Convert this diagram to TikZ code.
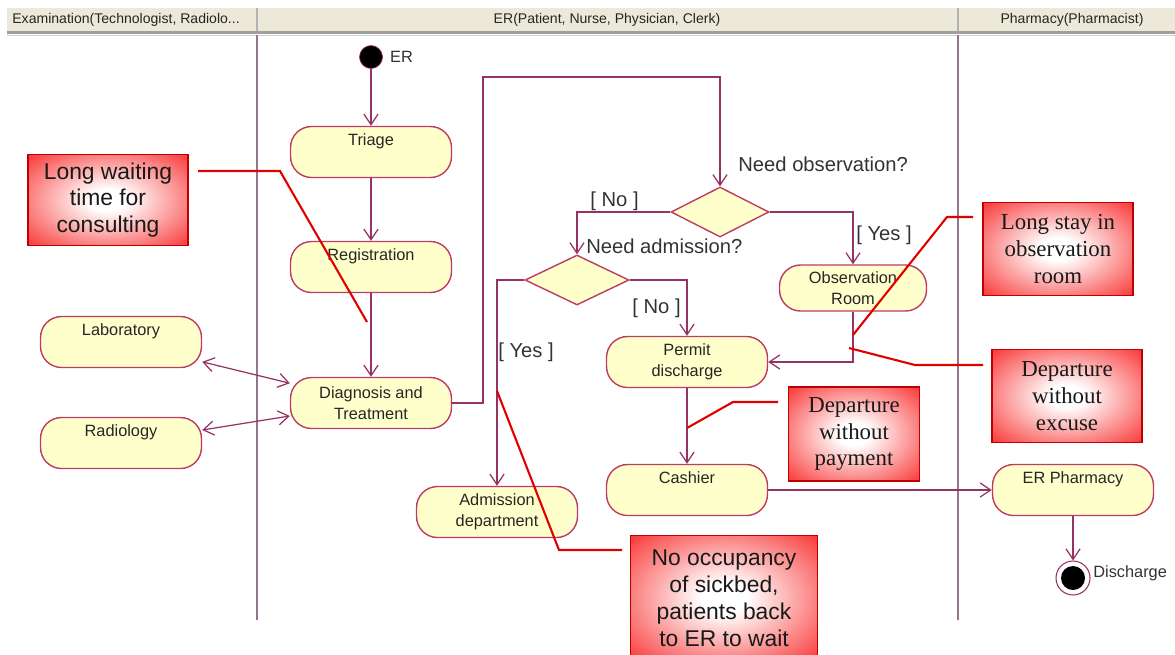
\documentclass[tikz,border=0pt]{standalone}
\usepackage{fontspec}
\setmainfont{Liberation Sans}
\newfontfamily\notefont{Liberation Serif}
\usepackage{xcolor}
\usetikzlibrary{arrows.meta, positioning, shapes.geometric}

\definecolor{actfill}{RGB}{255,255,204}
\definecolor{actline}{RGB}{190,60,100}
\definecolor{flowline}{RGB}{150,50,100}
\definecolor{laneline}{RGB}{150,115,140}
\definecolor{headfill}{RGB}{236,233,216}
\definecolor{noteline}{RGB}{225,0,0}
\definecolor{notered}{RGB}{248,25,25}

\pgfdeclareradialshading{noteshade}{\pgfpointorigin}{color(0bp)=(white); color(6bp)=(white); color(40bp)=(notered); color(50bp)=(notered)}

\begin{document}
\begin{tikzpicture}[
  x=0.02cm, y=-0.02cm,
  >={Straight Barb[length=6pt,width=8pt]},
  act/.style={draw=actline, fill=actfill, line width=0.8pt, rounded corners=0.42cm, minimum width=3.22cm, minimum height=1.02cm, inner sep=1pt, align=center, text=black!85, font=\fontsize{9.3}{11.9}\selectfont},
  actone/.style={act, text height=7pt, text depth=14pt},
  decision/.style={diamond, draw=actline, fill=actfill, line width=0.8pt, minimum width=1.96cm, minimum height=1cm, inner sep=0pt},
  flow/.style={draw=flowline, line width=0.7pt, ->},
  twoway/.style={draw=flowline, line width=0.7pt, <->},
  guard/.style={font=\fontsize{11.5}{13}\selectfont, text=black!80, inner sep=0pt},
  lane/.style={draw=laneline, line width=1.1pt},
  lanehead/.style={font=\fontsize{8}{9}\selectfont, text=black!85, inner sep=0pt},
  note/.style={draw=noteline!85!black, line width=1pt, shading=noteshade, align=center, inner sep=0pt, text=black!90},
  notesans/.style={note, font=\fontsize{13}{15.3}\selectfont},
  noteserif/.style={note, font=\notefont\fontsize{13}{15.3}\selectfont},
  pin/.style={draw=noteline, line width=1.2pt}
]
\useasboundingbox (0,0) rectangle (1175,654);

% swimlane header
\fill[headfill] (7,8) rectangle (1175,31);
\draw[gray!75, line width=1.2pt] (7,32.5) -- (1175,32.5);
\draw[gray!35] (7,35) -- (1175,35);
\draw[gray!60, line width=1pt] (257,8) -- (257,31);
\draw[gray!60, line width=1pt] (958,8) -- (958,31);
\node[lanehead, anchor=west] (examhead) at (12,20) {Examination(Technologist, Radiolo...};
\node[lanehead] (erhead) at (607,20) {ER(Patient, Nurse, Physician, Clerk)};
\node[lanehead] (pharmhead) at (1072,20) {Pharmacy(Pharmacist)};
\draw[lane] (257,35) -- (257,620);
\draw[lane] (958,35) -- (958,620);

% activities
\node[circle, fill=black, draw=flowline, minimum size=0.46cm, inner sep=0pt] (start) at (371,57) {};
\node[guard, font=\fontsize{9.3}{11}\selectfont, right=4pt of start] (startlbl) {ER};
\node[actone] (triage) at (371,152) {Triage};
\node[actone] (registration) at (371,267) {Registration};
\node[act] (diagnosis) at (371,403) {Diagnosis and\\Treatment};
\node[actone] (laboratory) at (121,342) {Laboratory};
\node[actone] (radiology) at (121,443) {Radiology};
\node[decision] (needobs) at (720,212) {};
\node[decision, minimum width=2.08cm] (needadm) at (577,280) {};
\node[act, minimum width=2.94cm, minimum height=0.92cm] (observation) at (853,288) {Observation\\Room};
\node[act] (permit) at (687,362) {Permit\\discharge};
\node[actone] (cashier) at (687,490) {Cashier};
\node[act] (admission) at (497,512) {Admission\\department};
\node[actone] (pharmacy) at (1073,490) {ER Pharmacy};
\node[circle, draw=flowline, line width=0.6pt, minimum size=0.68cm, inner sep=0pt,
  path picture={\fill[black] (path picture bounding box.center) circle (0.24cm);}] (discharge) at (1073,578) {};
\node[guard, font=\fontsize{9.3}{11}\selectfont, anchor=west] (dischargelbl) at (1093,573) {Discharge};

% guards
\node[guard, anchor=west] (obsq) at (738,164) {Need observation?};
\node[guard, anchor=west] (obsno) at (590,201) {[ No ]};
\node[guard, anchor=west] (obsyes) at (856,235) {[ Yes ]};
\node[guard, anchor=west] (admq) at (586,246) {Need admission?};
\node[guard, anchor=west] (admno) at (632,308) {[ No ]};
\node[guard, anchor=west] (admyes) at (498,352) {[ Yes ]};

% flows
\coordinate (loopcorner) at (483,77);
\draw[flow] (start) -- (triage);
\draw[flow] (triage) -- (registration);
\draw[flow] (registration) -- (diagnosis);
\draw[twoway] (laboratory) -- (diagnosis);
\draw[twoway] (radiology) -- (diagnosis);
\draw[flow] (diagnosis.east) -| (loopcorner) -| (needobs.north);
\draw[flow] (needobs.west) -| (needadm.north);
\draw[flow] (needobs.east) -| (observation.north);
\draw[flow] (needadm.west) -| (admission.north);
\draw[flow] (needadm.east) -| (permit.north);
\draw[flow] (observation.south) |- (permit.east);
\draw[flow] (permit) -- (cashier);
\draw[flow] (cashier) -- (pharmacy);
\draw[flow] (pharmacy) -- (discharge);

% problem callouts
\node[notesans, minimum width=3.2cm, minimum height=1.82cm] (waitbox) at (108,200) {Long waiting\\time for\\consulting};
\node[noteserif, minimum width=3cm, minimum height=1.86cm] (staybox) at (1058,249) {Long stay in\\observation\\room};
\node[noteserif, minimum width=3cm, minimum height=1.86cm] (excusebox) at (1067,396) {Departure\\without\\excuse};
\node[noteserif, minimum width=2.62cm, minimum height=1.88cm] (paybox) at (854,434) {Departure\\without\\payment};
\node[notesans, minimum width=3.74cm, minimum height=2.5cm] (bedbox) at (724,598) {No occupancy\\of sickbed,\\patients back\\to ER to wait};

\coordinate (waittail) at (198,171);
\coordinate (waitpin) at (367,322);
\coordinate (staytail) at (973,217);
\coordinate (staypin) at (853,335);
\coordinate (excusetail) at (983,365);
\coordinate (excusepin) at (849,348);
\coordinate (paytail) at (778,402);
\coordinate (paypin) at (687,428);
\coordinate (bedtail) at (622,550);
\coordinate (bedpin) at (497,391);
\draw[pin] (waittail) -- ++(82,0) -- (waitpin);
\draw[pin] (staytail) -- ++(-26,0) -- (staypin);
\draw[pin] (excusetail) -- ++(-68,0) -- (excusepin);
\draw[pin] (paytail) -- ++(-45,0) -- (paypin);
\draw[pin] (bedtail) -- ++(-63,0) -- (bedpin);
\end{tikzpicture}
\end{document}
